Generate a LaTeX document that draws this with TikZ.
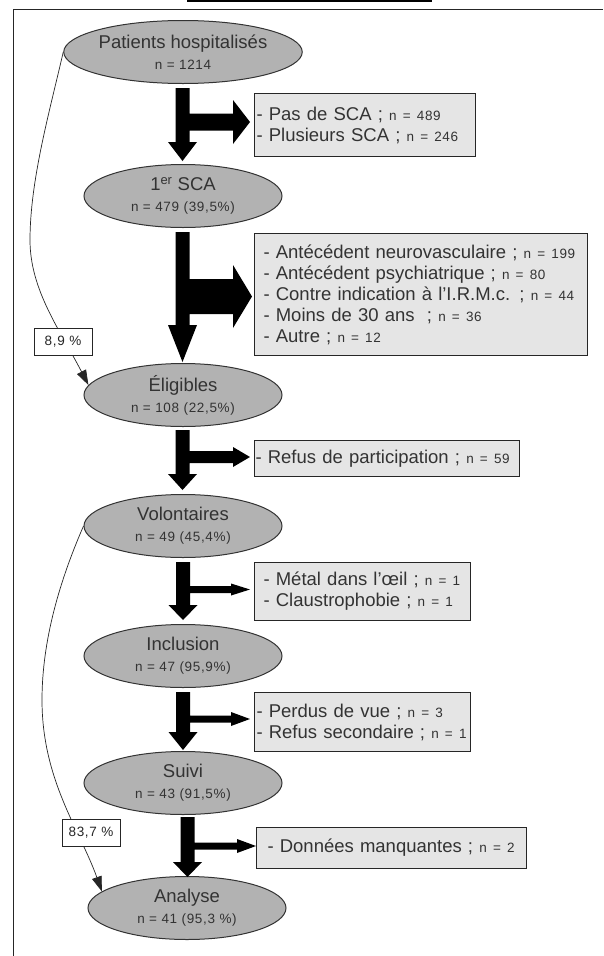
\documentclass[tikz,border=0pt]{standalone}
\usepackage{fontspec}
\setmainfont{Liberation Sans}
\newfontfamily\smallf[LetterSpace=5]{Liberation Sans}
\usetikzlibrary{shapes.geometric,arrows.meta}
\newcommand\nn[1]{{\smallf\fontsize{13.5}{15}\selectfont #1}}
% #1 xc, #2 top, #3 head base, #4 tip, #5 branch y, #6 branch half thickness,
% #7 branch head half height, #8 branch head base x, #9 branch tip x
\newcommand\splitarrow[9]{%
  \fill[black] (#1-7,#2) -- (#1+7,#2) -- (#1+7,#5-#6) -- (#8,#5-#6) -- (#8,#5-#7)
    -- (#9,#5) -- (#8,#5+#7) -- (#8,#5+#6) -- (#1+7,#5+#6) -- (#1+7,#3)
    -- (#1+14.5,#3) -- (#1,#4) -- (#1-14.5,#3) -- (#1-7,#3) -- cycle;}
\tikzset{
  stage/.style={ellipse, draw=black!80, line width=1pt, fill=black!30,
    text=black!80, minimum width=198pt, minimum height=63pt, inner sep=0pt,
    align=center, font=\fontsize{18.5}{20}\selectfont},
  excl/.style={draw=black!85, line width=1pt, fill=black!10, text=black!80,
    anchor=north west, align=left, inner ysep=0pt,
    font=\fontsize{18.5}{21}\selectfont},
  pct/.style={draw=black!85, line width=0.8pt, fill=white, text=black!85,
    minimum width=58pt, minimum height=27pt, inner sep=0pt,
    font=\smallf\fontsize{13.5}{15}\selectfont},
  curv/.style={draw=black!85, line width=0.7pt,
    -{Triangle[length=15pt,width=10pt]}}
}
\begin{document}
\begin{tikzpicture}[x=1pt,y=-1pt]
\useasboundingbox (0,0) rectangle (603,956);
% page frame and title underline
\draw[line width=1pt, black!85] (13.5,956) -- (13.5,9.5) -- (603,9.5);
\draw[line width=1.8pt, black] (187,1) -- (432,1);

% stages
\node[stage] (pat) at (183,52)  {Patients hospitalisés\\[1pt]\nn{n = 1214}};
\node[stage] (sca) at (183,196) {1\textsuperscript{er} SCA\\[1pt]\nn{n = 479 (39,5\%)}};
\node[stage] (eli) at (183,395) {Éligibles\\[1pt]\nn{n = 108 (22,5\%)}};
\node[stage] (vol) at (183,526) {Volontaires\\[1pt]\nn{n = 49 (45,4\%)}};
\node[stage] (inc) at (183,656) {Inclusion\\[1pt]\nn{n = 47 (95,9\%)}};
\node[stage] (sui) at (183,783) {Suivi\\[1pt]\nn{n = 43 (91,5\%)}};
\node[stage] (ana) at (187,908) {Analyse\\[1pt]\nn{n = 41 (95,3 \%)}};

% exclusion boxes
\node[excl, inner xsep=2pt, text width=217pt, minimum height=63pt] (b1) at (254,93)
  {- Pas de SCA ;~\nn{n = 489}\\- Plusieurs SCA ;~\nn{n = 246}};
\node[excl, inner xsep=9pt, text width=315pt, minimum height=122pt] (b2) at (254,233)
  {- Antécédent neurovasculaire ;~\nn{n = 199}\\
   - Antécédent psychiatrique ;~\nn{n = 80}\\
   - Contre indication à l'I.R.M.c. ;~\nn{n = 44}\\
   - Moins de 30 ans\ \ ;~\nn{n = 36}\\
   - Autre ;~\nn{n = 12}};
\node[excl, inner xsep=1pt, text width=263pt, minimum height=36pt] (b3) at (254,440)
  {- Refus de participation ;~\nn{n = 59}};
\node[excl, inner xsep=9pt, text width=198pt, minimum height=58pt] (b4) at (254,562)
  {- Métal dans l’œil ;~\nn{n = 1}\\- Claustrophobie ;~\nn{n = 1}};
\node[excl, inner xsep=2pt, text width=212pt, minimum height=59pt] (b5) at (254,692)
  {- Perdus de vue ;~\nn{n = 3}\\- Refus secondaire ;~\nn{n = 1}};
\node[excl, inner xsep=11pt, text width=248pt, minimum height=41pt] (b6) at (256,827)
  {- Données manquantes ;~\nn{n = 2}};

% split arrows
\splitarrow{182.5}{88}{142}{161}{122}{8.5}{22}{233}{250}
\splitarrow{182.5}{232}{325}{362}{296.5}{17.5}{31.5}{233}{252}
\splitarrow{182.5}{430}{474}{490}{457}{6}{10}{233}{250}
\splitarrow{183}{562}{605}{620}{589.5}{3.5}{6}{231}{250}
\splitarrow{183}{692}{732}{750}{719}{3.5}{7}{231}{250}
\splitarrow{187.5}{817}{862}{877}{846}{3.5}{7}{237}{256}

% bypass curves
\draw[curv] (pat.west) .. controls (50,110) and (30,180) .. (30,240)
  .. controls (30,290) and (60,330) .. (eli.174);
\draw[curv] (vol.west) .. controls (60,580) and (42,640) .. (42,700)
  .. controls (42,780) and (80,830) .. (ana.169);
\node[pct] (p1) at (63,341.5) {8,9 \%};
\node[pct] (p2) at (91,832.5) {83,7 \%};
\end{tikzpicture}
\end{document}
